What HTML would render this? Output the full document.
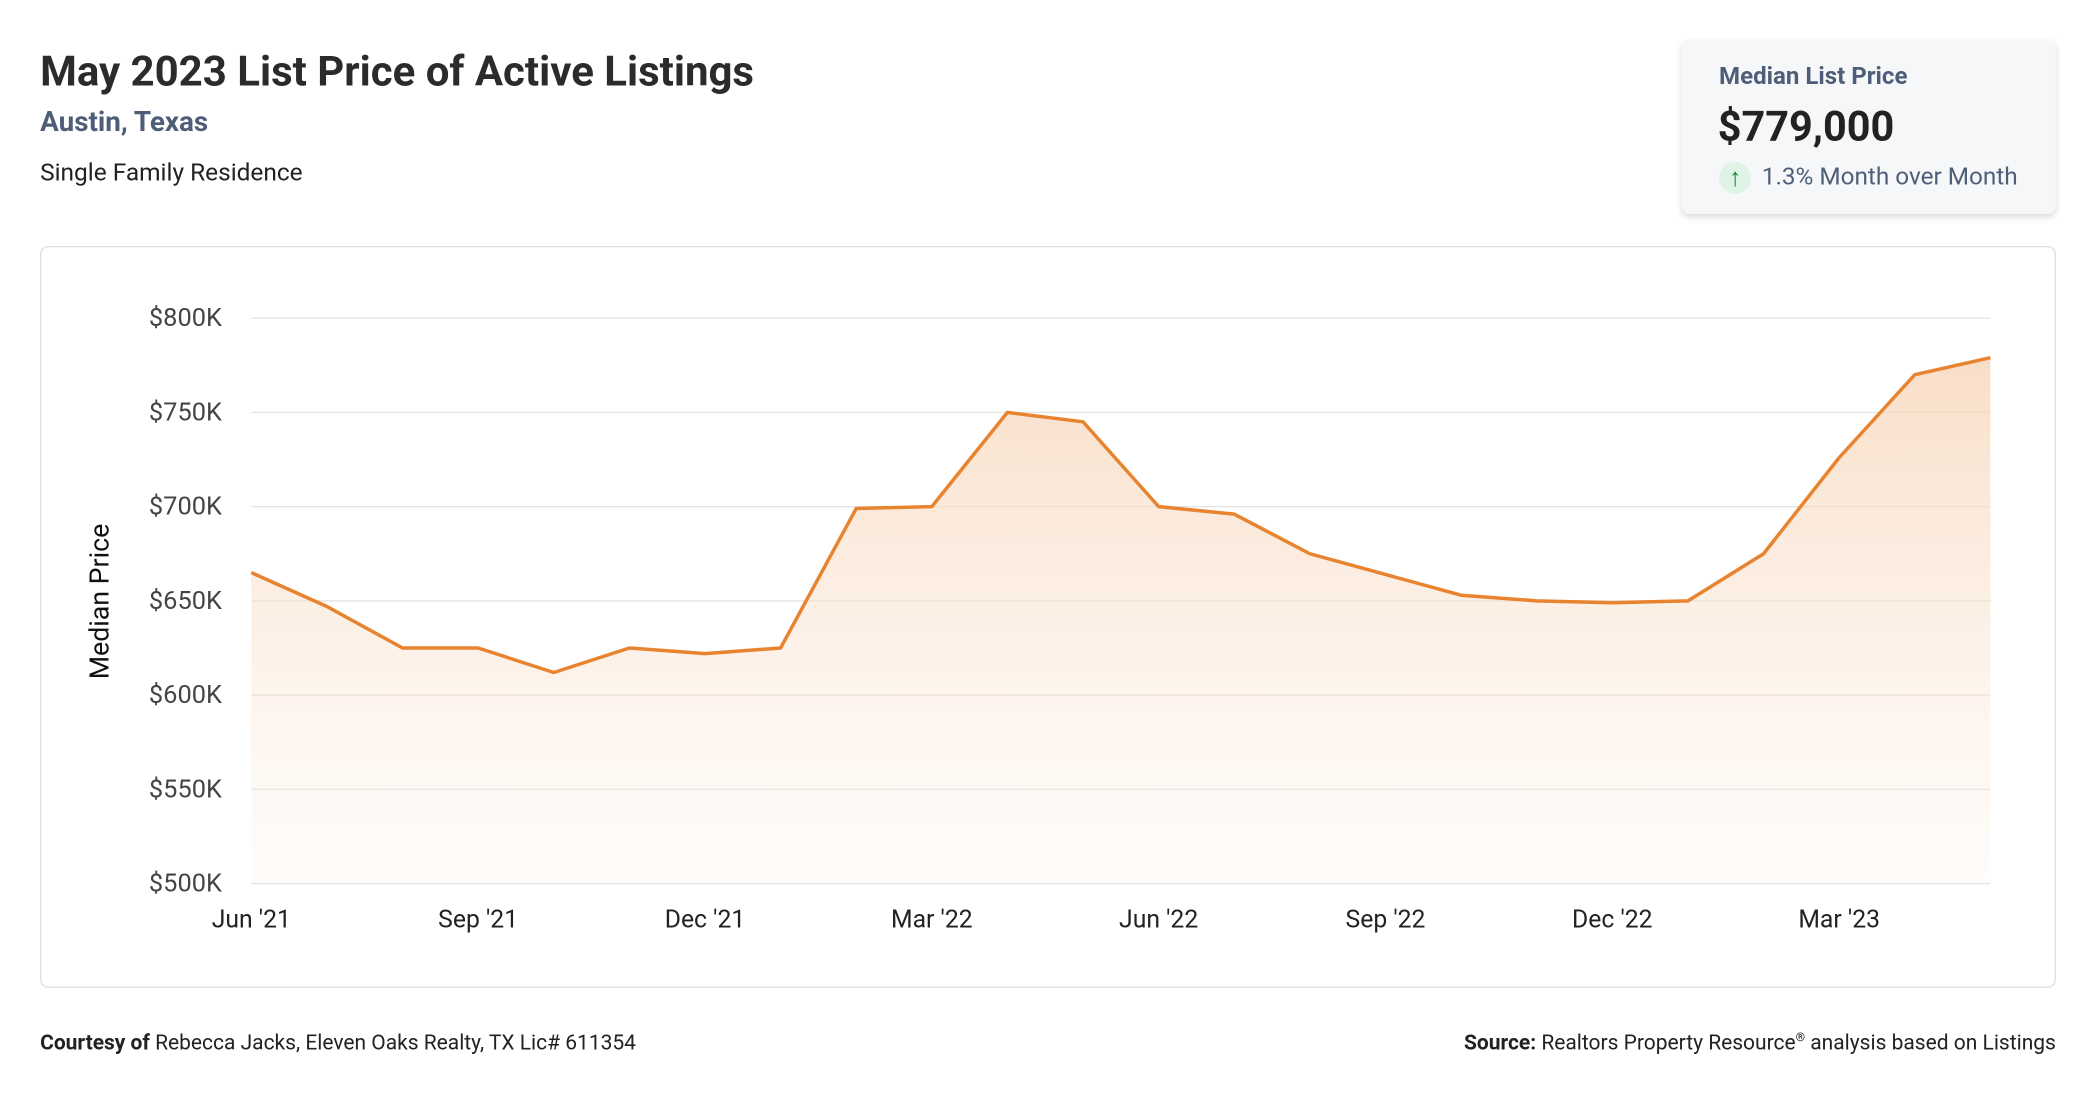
<!DOCTYPE html>
<html><head><meta charset="utf-8"><style>
html,body{margin:0;padding:0;background:#fff;width:2096px;height:1100px;overflow:hidden}
#root{position:absolute;left:0;top:0;width:1568px;height:823px;transform:scale(1.33673);transform-origin:0 0;font-family:"Roboto","Liberation Sans",sans-serif;color:#222}
.abs{position:absolute;white-space:nowrap}
</style></head><body>
<div id="root">
<div class="abs" style="left:30px;top:35px;font-size:31.4px;font-weight:bold;color:#2b2b2b">May 2023 List Price of Active Listings</div>
<div class="abs" style="left:30px;top:80px;font-size:20.8px;font-weight:bold;color:#4f5e78">Austin, Texas</div>
<div class="abs" style="left:30px;top:119px;font-size:18.3px;color:#222">Single Family Residence</div>

<div class="abs" style="left:1258px;top:30px;width:280px;height:130px;background:#f6f7f9;border-radius:6px;box-shadow:0 2px 5px rgba(0,0,0,.15)">
 <div class="abs" style="left:28px;top:17px;font-size:18px;font-weight:bold;color:#4f5e78">Median List Price</div>
 <div class="abs" style="left:27px;top:46px;font-size:31px;font-weight:bold;color:#222">$779,000</div>
 <div class="abs" style="left:28px;top:91px;width:24px;height:24px;border-radius:12px;background:#dff3e6;color:#1a8a40;font-size:19px;font-weight:bold;line-height:24px;text-align:center">↑</div>
 <div class="abs" style="left:60px;top:92px;font-size:18.2px;color:#4f5e78">1.3% Month over Month</div>
</div>

<div class="abs" style="left:30px;top:184px;width:1506px;height:553px;border:1px solid #dcdfe4;border-radius:6px;background:#fff"></div>
<svg class="abs" style="left:0;top:0" width="1568" height="823" id="chart"></svg>

<div class="abs" style="left:30px;top:770px;font-size:15.7px;color:#222"><b>Courtesy of</b> Rebecca Jacks, Eleven Oaks Realty, TX Lic# 611354</div>
<div class="abs" style="right:30px;top:770px;font-size:15.7px;color:#222"><b>Source:</b> Realtors Property Resource<sup style="font-size:9px">®</sup> analysis based on Listings</div>
</div>
<script>
const months=["Jun '21","Jul '21","Aug '21","Sep '21","Oct '21","Nov '21","Dec '21","Jan '22","Feb '22","Mar '22","Apr '22","May '22","Jun '22","Jul '22","Aug '22","Sep '22","Oct '22","Nov '22","Dec '22","Jan '23","Feb '23","Mar '23","Apr '23","May '23"];
const prices=[665,647,625,625,612,625,622,625,699,700,750,745,700,696,675,664,653,650,649,650,675,726,770,779];
const yTicks=[500,550,600,650,700,750,800];
const xTickLabels=["Jun '21","Sep '21","Dec '21","Mar '22","Jun '22","Sep '22","Dec '22","Mar '23"];
const NS="http://www.w3.org/2000/svg";
const svg=document.getElementById('chart');
const X0=188,X1=1489,Y0=661,Y1=238;
function xs(i){return X0+(X1-X0)*i/(months.length-1);}
function ys(v){return Y0-(v-500)/(800-500)*(Y0-Y1);}
function mk(t,a){const e=document.createElementNS(NS,t);for(const k in a)e.setAttribute(k,a[k]);svg.appendChild(e);return e;}
const defs=mk('defs',{});
defs.innerHTML='<linearGradient id="g" x1="0" y1="0" x2="0" y2="1"><stop offset="0" stop-color="#f6d3b5" stop-opacity="0.75"/><stop offset="1" stop-color="#fde9da" stop-opacity="0.15"/></linearGradient>';
yTicks.forEach(v=>{
 const l=mk('line',{x1:X0,x2:X1,y1:ys(v),y2:ys(v),stroke:'#e3e3e3','stroke-width':1});
 
 
 const t=mk('text',{x:166,y:ys(v)+6,'text-anchor':'end','font-size':19,fill:'#444','font-family':'Roboto,Liberation Sans,sans-serif'});
 t.textContent='$'+v+'K';
 
 
});
xTickLabels.forEach(lbl=>{
 const i=months.indexOf(lbl);
 const t=mk('text',{x:xs(i),y:694,'text-anchor':'middle','font-size':18.5,fill:'#222','font-family':'Roboto,Liberation Sans,sans-serif'});
 t.textContent=lbl;
 
 
});
let d=prices.map((v,i)=>(i?'L':'M')+xs(i)+' '+ys(v)).join(' ');
const area=mk('path',{d:d+` L${xs(prices.length-1)} ${Y0} L${X0} ${Y0} Z`,fill:'url(#g)'});


const line=mk('path',{d:d,fill:'none',stroke:'#e8832f','stroke-width':2.6,'stroke-linejoin':'round'});


const yt=mk('text',{x:0,y:0,transform:'translate(81,450) rotate(-90)','text-anchor':'middle','font-size':20,fill:'#111','font-family':'Roboto,Liberation Sans,sans-serif'});
yt.textContent='Median Price';


</script>
</body></html>
